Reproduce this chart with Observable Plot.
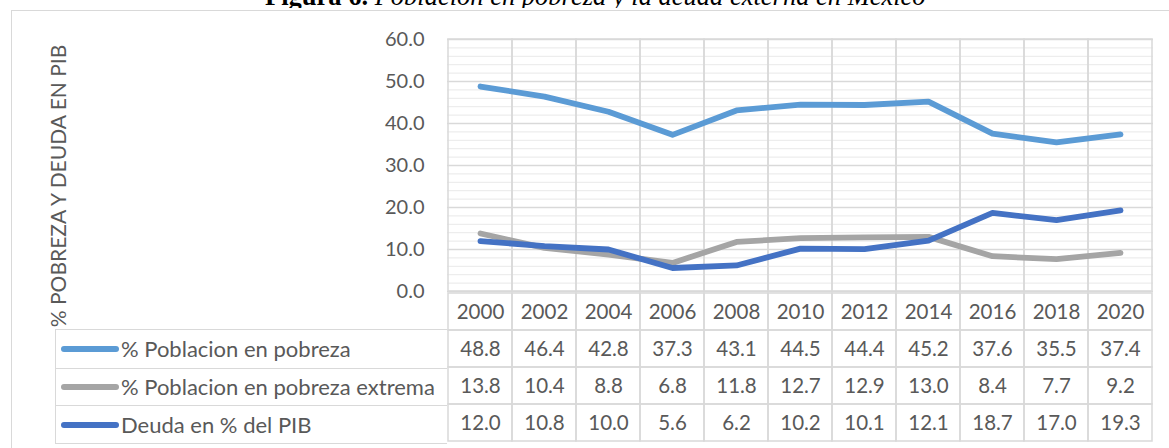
<!DOCTYPE html>
<html>
<head>
<meta charset="utf-8">
<script src="https://cdn.jsdelivr.net/npm/d3@7"></script>
<script src="https://cdn.jsdelivr.net/npm/@observablehq/plot@0.6"></script>
<style>
  body { margin: 0; background: #fff; }
  #wrap { position: relative; width: 1169px; height: 448px; overflow: hidden; background: #fff; font-family: Lato, sans-serif; }
  #title { position: absolute; left: 0; top: 0; width: 1169px; height: 8px; overflow: hidden; }
  #title .t { position: absolute; left: 265px; top: -16.7px; font-family: "Liberation Serif", serif; font-size: 26.5px; line-height: 26.5px; white-space: nowrap; color: #000; }
  #panel { position: absolute; left: 11px; top: 10px; width: 1200px; height: 500px; border-top: 1px solid #d9d9d9; border-left: 1px solid #d9d9d9; }
  #chart { position: absolute; left: 0; top: 0; }
  #table { position: absolute; left: 0; top: 291px; }
  #legend { position: absolute; left: 55px; top: 328.75px; width: 392px; border: 1.5px solid #d9d9d9; border-right: none; box-sizing: border-box; }
  #legend .row { height: 37.75px; display: flex; align-items: center; box-sizing: border-box; color: #595959; font-size: 22px; white-space: nowrap; }
  #legend .row + .row { border-top: 1.5px solid #d9d9d9; }
  #legend .sw { display: inline-block; width: 58px; height: 6px; border-radius: 3px; margin-left: 5px; margin-right: 2px; }
</style>
</head>
<body>
<div id="wrap">
  <div id="title"><span class="t"><b>Figura 6.</b> <i>Poblacion en pobreza y la deuda externa en Mexico</i></span></div>
  <div id="panel"></div>
  <div id="chart"></div>
  <div id="table"></div>
  <div id="legend"></div>
</div>
<script>
const years = ["2000", "2002", "2004", "2006", "2008", "2010", "2012", "2014", "2016", "2018", "2020"];
const pobreza = [48.8, 46.4, 42.8, 37.3, 43.1, 44.5, 44.4, 45.2, 37.6, 35.5, 37.4];
const pobrezaExtrema = [13.8, 10.4, 8.8, 6.8, 11.8, 12.7, 12.9, 13.0, 8.4, 7.7, 9.2];
const deudaPIB = [12.0, 10.8, 10.0, 5.6, 6.2, 10.2, 10.1, 12.1, 18.7, 17.0, 19.3];
const seriesNames = ["% Poblacion en pobreza", "% Poblacion en pobreza extrema", "Deuda en % del PIB"];
const seriesColors = ["#5b9bd5", "#a5a5a5", "#4472c4"];
const yTicks = [0, 10, 20, 30, 40, 50, 60];
const yMinorTicks = d3.range(0, 61, 2);
const yTitle = "% POBREZA Y DEUDA EN PIB";
const headerRow = "Año";

const seriesValues = [pobreza, pobrezaExtrema, deudaPIB];
const rows = seriesNames.flatMap((s, i) => years.map((y, j) => ({series: s, year: y, value: seriesValues[i][j]})));

const chart = Plot.plot({
  width: 1169, height: 292,
  marginTop: 39, marginBottom: 1, marginLeft: 447, marginRight: 16,
  style: {background: "transparent", fontFamily: "Lato, sans-serif", overflow: "visible"},
  x: {type: "band", domain: years, padding: 0, axis: null},
  y: {domain: [0, 60], axis: null},
  color: {domain: seriesNames, range: seriesColors},
  marks: [
    Plot.ruleY(yMinorTicks, {stroke: "#ededed", strokeWidth: 1.2}),
    Plot.ruleY(yTicks, {stroke: "#d9d9d9", strokeWidth: 1.5}),
    Plot.cell(years, {x: d => d, fill: "none", stroke: "#d9d9d9", strokeWidth: 1.5}),
    Plot.axisY(yTicks, {tickSize: 0, tickPadding: 23, tickFormat: d3.format(".1f"), fontSize: 20, fill: "#595959", label: null}),
    Plot.line(rows, {x: "year", y: "value", z: "series", stroke: "series", strokeWidth: 5.8, strokeLinecap: "round", strokeLinejoin: "round"}),
    Plot.text([yTitle], {frameAnchor: "left", textAnchor: "middle", rotate: -90, dx: -388, dy: 20.5, fontSize: 21, fill: "#595959", text: d => d})
  ]
});
document.getElementById("chart").appendChild(chart);

const rowKeys = [headerRow, ...seriesNames];
const tableCells = years.flatMap((y, j) => [
  {year: y, row: headerRow, text: y},
  ...seriesNames.map((s, i) => ({year: y, row: s, text: seriesValues[i][j].toFixed(1)}))
]);

const table = Plot.plot({
  width: 1169, height: 157,
  marginTop: 0, marginBottom: 6, marginLeft: 447, marginRight: 16,
  style: {background: "transparent", fontFamily: "Lato, sans-serif", overflow: "visible"},
  x: {type: "band", domain: years, padding: 0, axis: null},
  y: {type: "band", domain: rowKeys, padding: 0, axis: null},
  marks: [
    Plot.cell(tableCells, {x: "year", y: "row", fill: "none", stroke: "#d9d9d9", strokeWidth: 1.5}),
    Plot.text(tableCells, {x: "year", y: "row", text: "text", fontSize: 20.5, fill: "#595959"})
  ]
});
document.getElementById("table").appendChild(table);

const legend = document.getElementById("legend");
seriesNames.forEach((s, i) => {
  const row = document.createElement("div");
  row.className = "row";
  const sw = document.createElement("span");
  sw.className = "sw";
  sw.style.background = seriesColors[i];
  const label = document.createElement("span");
  label.textContent = s;
  row.appendChild(sw);
  row.appendChild(label);
  legend.appendChild(row);
});
</script>
</body>
</html>
